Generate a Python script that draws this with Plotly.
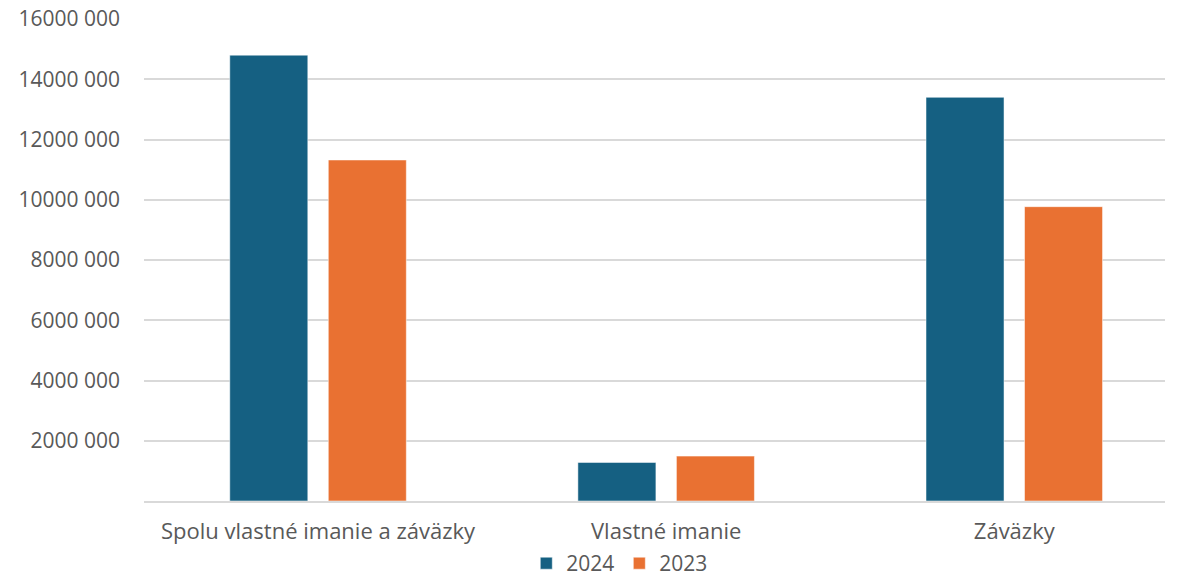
import plotly.graph_objects as go

categories = ["Spolu vlastné imanie a záväzky", "Vlastné imanie", "Záväzky"]
series_names = ["2024", "2023"]
values_2024 = [14800000, 1280000, 13400000]
values_2023 = [11320000, 1490000, 9770000]
colors = ["#156082", "#E97132"]
tick_vals = [2000000, 4000000, 6000000, 8000000, 10000000, 12000000, 14000000, 16000000]
tick_text = ["2000 000", "4000 000", "6000 000", "8000 000", "10000 000", "12000 000", "14000 000", "16000 000"]

font_family = "Open Sans, Lato, sans-serif"
text_color = "#595959"

fig = go.Figure()
for name, vals, col in zip(series_names, [values_2024, values_2023], colors):
    fig.add_trace(go.Bar(
        x=categories, y=vals, name=name,
        marker=dict(color=col, line=dict(color="rgba(255,255,255,0.5)", width=1)),
    ))

fig.update_layout(
    width=1180, height=578,
    margin=dict(l=144, r=15, t=19, b=77, autoexpand=False),
    paper_bgcolor="white", plot_bgcolor="white",
    barmode="group", bargap=0.434, bargroupgap=0.208,
    font=dict(family=font_family, size=21, color=text_color),
    showlegend=True,
    legend=dict(orientation="h", x=0.466, xanchor="center",
                yref="container", y=0.025, yanchor="middle",
                font=dict(size=21, color=text_color), traceorder="normal",
                itemwidth=30, tracegroupgap=0),
    xaxis=dict(range=[-0.5, 2.433], showgrid=False, showline=True, linecolor="#d9d9d9", linewidth=2,
               ticks="", tickfont=dict(size=22, color=text_color), ticklabelstandoff=10,
               automargin=False),
    yaxis=dict(range=[0, 16000000], tickvals=tick_vals, ticktext=tick_text,
               showgrid=True, gridcolor="#d9d9d9", gridwidth=1.5, zeroline=False,
               showline=False, ticks="", ticklabelstandoff=23, automargin=False,
               ticklabeloverflow="allow",
               tickfont=dict(size=21, color=text_color)),
)

# remove the browser's default 8px body margin so the figure fills the window
fig.write_html("out.html", config={"displayModeBar": False},
               post_script="document.body.style.margin='0';document.body.style.overflow='hidden';")
